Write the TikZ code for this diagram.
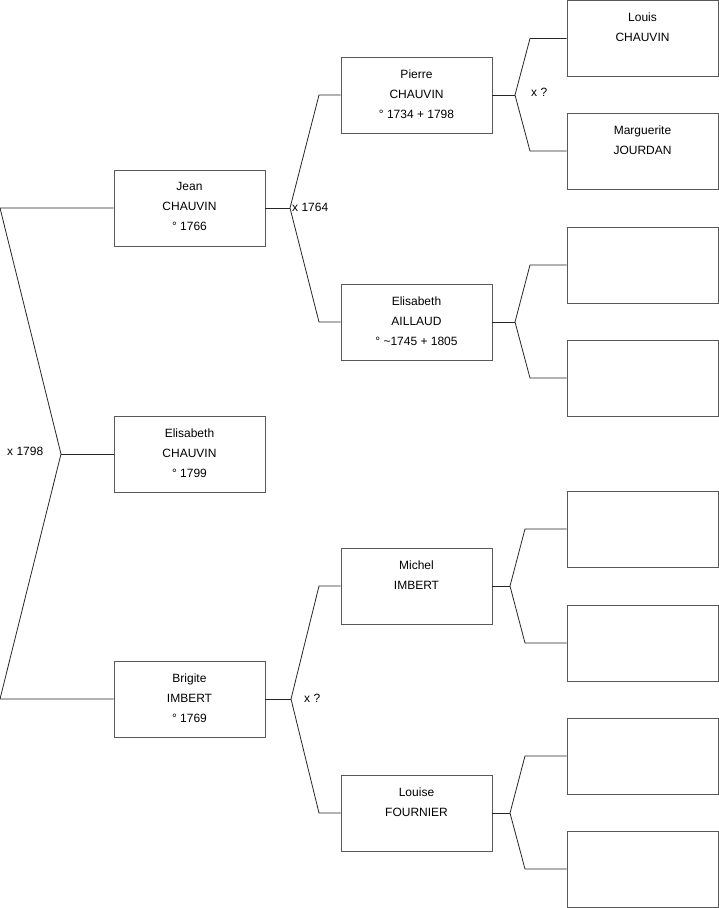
\documentclass[tikz,border=0pt]{standalone}
\usepackage{fontspec}
\setmainfont{Liberation Sans}
\begin{document}
\begin{tikzpicture}[x=1pt,y=-1pt,
  pbox/.style={draw=black!65, line width=0.8pt, minimum width=151pt, minimum height=76pt, inner sep=0pt, fill=white},
  ptext/.style={anchor=north, align=center, inner sep=0pt, font=\fontsize{12}{20}\selectfont, yshift=-12.8pt},
  conn/.style={draw=black!85, line width=0.8pt},
  lab/.style={anchor=west, inner sep=0pt, font=\fontsize{12}{14}\selectfont}]
\useasboundingbox (0,0) rectangle (719,908);
% column 1
\node[pbox] (jean) at (189.5,208) {};
\node[ptext] (jeanT) at (jean.north) {Jean\\CHAUVIN\\° 1766};
\node[pbox] (elc) at (189.5,454) {};
\node[ptext] (elcT) at (elc.north) {Elisabeth\\CHAUVIN\\° 1799};
\node[pbox] (brig) at (189.5,699) {};
\node[ptext] (brigT) at (brig.north) {Brigite\\IMBERT\\° 1769};
% column 2
\node[pbox] (pier) at (416.5,95) {};
\node[ptext] (pierT) at (pier.north) {Pierre\\CHAUVIN\\° 1734 + 1798};
\node[pbox] (elis) at (416.5,322) {};
\node[ptext] (elisT) at (elis.north) {Elisabeth\\AILLAUD\\° \textasciitilde1745 + 1805};
\node[pbox] (mich) at (416.5,586) {};
\node[ptext] (michT) at (mich.north) {Michel\\IMBERT};
\node[pbox] (loui) at (416.5,813) {};
\node[ptext] (louiT) at (loui.north) {Louise\\FOURNIER};
% column 3
\node[pbox] (lou) at (642.5,38.5) {};
\node[ptext] (louT) at (lou.north) {Louis\\CHAUVIN};
\node[pbox] (mar) at (642.5,151) {};
\node[ptext] (marT) at (mar.north) {Marguerite\\JOURDAN};
\node[pbox] (e3) at (642.5,265) {};
\node[pbox] (e4) at (642.5,378) {};
\node[pbox] (e5) at (642.5,529) {};
\node[pbox] (e6) at (642.5,643) {};
\node[pbox] (e7) at (642.5,756) {};
\node[pbox] (e8) at (642.5,869) {};
% junction points
\coordinate (a0) at (0,208); \coordinate (a1) at (61,454); \coordinate (a2) at (0,699);
\coordinate (b0) at (290,208); \coordinate (b1) at (319,95); \coordinate (b2) at (319,322);
\coordinate (c0) at (515,95); \coordinate (c1) at (530,38.5); \coordinate (c2) at (530,151);
\coordinate (d0) at (515,322); \coordinate (d1) at (530,265); \coordinate (d2) at (530,378);
\coordinate (f0) at (291,699); \coordinate (f1) at (319,586); \coordinate (f2) at (319,813);
\coordinate (g0) at (510,586); \coordinate (g1) at (525,529); \coordinate (g2) at (525,643);
\coordinate (h0) at (510,813); \coordinate (h1) at (525,756); \coordinate (h2) at (525,869);
% connectors
\draw[conn] (jean.west) -- (a0) -- (a1) -- (a2) -- (brig.west);
\draw[conn] (a1) -- (elc.west);
\draw[conn] (jean.east) -- (b0);
\draw[conn] (pier.west) -- (b1) -- (b0) -- (b2) -- (elis.west);
\draw[conn] (pier.east) -- (c0);
\draw[conn] (lou.west) -- (c1) -- (c0) -- (c2) -- (mar.west);
\draw[conn] (elis.east) -- (d0);
\draw[conn] (e3.west) -- (d1) -- (d0) -- (d2) -- (e4.west);
\draw[conn] (brig.east) -- (f0);
\draw[conn] (mich.west) -- (f1) -- (f0) -- (f2) -- (loui.west);
\draw[conn] (mich.east) -- (g0);
\draw[conn] (e5.west) -- (g1) -- (g0) -- (g2) -- (e6.west);
\draw[conn] (loui.east) -- (h0);
\draw[conn] (e7.west) -- (h1) -- (h0) -- (h2) -- (e8.west);
% marriage labels
\node[lab] (m1) at (7,451) {x 1798};
\node[lab] (m2) at (292,207) {x 1764};
\node[lab] (m3) at (531,92) {x ?};
\node[lab] (m4) at (304,698) {x ?};
\end{tikzpicture}
\end{document}
